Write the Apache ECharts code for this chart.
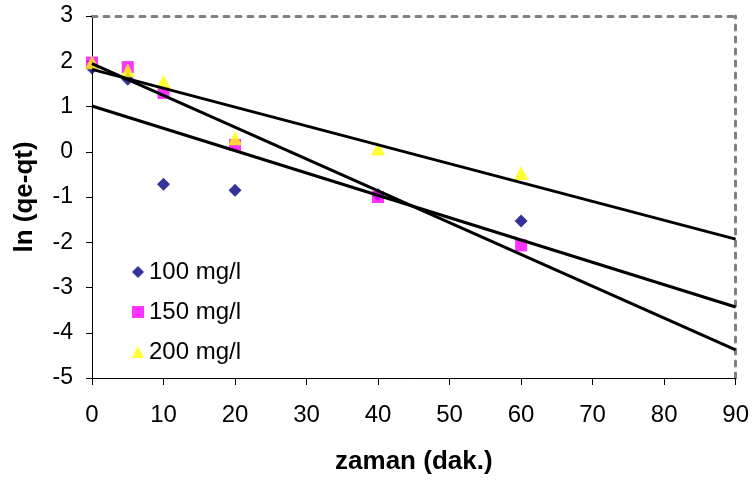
<!DOCTYPE html>
<html>
<head>
<meta charset="utf-8">
<script src="https://cdn.jsdelivr.net/npm/echarts@6/dist/echarts.min.js"></script>
<style>html,body{margin:0;padding:0;background:#fff}#c{width:752px;height:480px}</style>
</head>
<body>
<div id="c"></div>
<script>
// time (dak.)
const times = [0, 5, 10, 20, 40, 60];
// ln(qe-qt) values per concentration
const s100 = [1.85, 1.6, -0.72, -0.85, -0.95, -1.53];
const s150 = [1.97, 1.87, 1.3, 0.15, -1.0, -2.07];
const s200 = [1.98, 1.8, 1.55, 0.3, 0.07, -0.47];
// trend line end values (at x = 0 and x = 90)
const trendX = [0, 90];
const fit100 = [1.01, -3.43];
const fit150 = [1.95, -4.38];
const fit200 = [1.82, -1.93];
const seriesNames = ['100 mg/l', '150 mg/l', '200 mg/l'];
const xTicks = [0, 10, 20, 30, 40, 50, 60, 70, 80, 90];
const yTicks = [-5, -4, -3, -2, -1, 0, 1, 2, 3];

const pairs = (xs, ys) => xs.map((x, i) => [x, ys[i]]);
const FONT = 'Liberation Sans, Arial, sans-serif';

const chart = echarts.init(document.getElementById('c'), null, {renderer: 'canvas'});
const dashed = {show: true, onZero: false, lineStyle: {color: '#808080', width: 3, type: [5, 7]}};
const trend = (data) => ({
  type: 'line', data: data, symbol: 'none', silent: true, z: 5,
  lineStyle: {color: '#000', width: 3}, xAxisIndex: 0, yAxisIndex: 0
});
chart.setOption({
  animation: false,
  backgroundColor: '#fff',
  textStyle: {fontFamily: FONT},
  grid: {left: 92, right: 16, top: 16, bottom: 100},
  legend: {
    orient: 'vertical', left: 127, top: 254, itemGap: 14,
    itemWidth: 12, itemHeight: 12,
    textStyle: {fontSize: 24, color: '#000', fontFamily: FONT, lineHeight: 26},
    data: seriesNames
  },
  xAxis: [{
    type: 'value', min: xTicks[0], max: xTicks[xTicks.length - 1], interval: 10,
    name: 'zaman (dak.)', nameLocation: 'middle', nameGap: 71,
    nameTextStyle: {fontSize: 26, fontWeight: 'bold', color: '#000', fontFamily: FONT},
    axisLine: {show: true, onZero: false, lineStyle: {color: '#000', width: 1}},
    axisTick: {show: true, length: 7, lineStyle: {color: '#000'}},
    axisLabel: {fontSize: 24, color: '#000', margin: 25, fontFamily: FONT},
    splitLine: {show: false}
  }, {
    type: 'value', position: 'top', min: 0, max: 90,
    axisLine: dashed, axisTick: {show: false}, axisLabel: {show: false}, splitLine: {show: false}
  }],
  yAxis: [{
    type: 'value', min: yTicks[0], max: yTicks[yTicks.length - 1], interval: 1,
    name: 'ln (qe-qt)', nameLocation: 'middle', nameGap: 54,
    nameTextStyle: {fontSize: 26, fontWeight: 'bold', color: '#000', fontFamily: FONT},
    axisLine: {show: true, onZero: false, lineStyle: {color: '#000', width: 1}},
    axisTick: {show: true, length: 6, lineStyle: {color: '#000'}},
    axisLabel: {fontSize: 23, color: '#000', margin: 19, fontFamily: FONT},
    splitLine: {show: false}
  }, {
    type: 'value', position: 'right', min: -5, max: 3,
    axisLine: dashed, axisTick: {show: false}, axisLabel: {show: false}, splitLine: {show: false}
  }],
  series: [
    {name: seriesNames[0], type: 'scatter', symbol: 'diamond', symbolSize: 13, z: 3,
     itemStyle: {color: '#000080'}, data: pairs(times, s100)},
    {name: seriesNames[1], type: 'scatter', symbol: 'rect', symbolSize: 12, z: 3,
     itemStyle: {color: '#ff00ff'}, data: pairs(times, s150)},
    {name: seriesNames[2], type: 'scatter', symbol: 'triangle', symbolSize: 14, z: 3,
     itemStyle: {color: '#ffff00'}, data: pairs(times, s200)},
    trend(pairs(trendX, fit100)),
    trend(pairs(trendX, fit150)),
    trend(pairs(trendX, fit200))
  ]
});
</script>
</body>
</html>
